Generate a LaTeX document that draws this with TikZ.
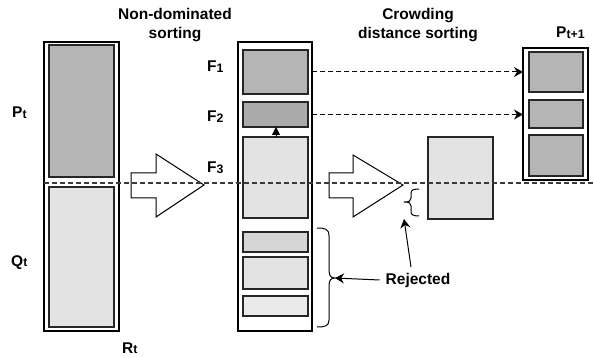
\documentclass[tikz,border=0pt]{standalone}
\usepackage{fontspec}
\setmainfont{Liberation Sans}
\usetikzlibrary{arrows.meta,fit}

\definecolor{darkfill}{HTML}{B5B5B5}
\definecolor{darkerfill}{HTML}{ABABAB}
\definecolor{lightfill}{HTML}{E3E3E3}
\definecolor{midfill}{HTML}{D6D6D6}
\definecolor{palefill}{HTML}{EAEAEA}
\definecolor{cutline}{HTML}{3A3A3A}

\newcommand{\lbl}[2]{#1\raisebox{-0.7pt}{\fontsize{12.3}{13}\selectfont #2}}

\begin{document}
\begin{tikzpicture}[x=1pt,y=-1pt,
  outerbox/.style={draw=black, line width=1.4pt, fill=white, inner sep=0pt, outer sep=0pt},
  innerbox/.style={draw=black!85, line width=1.1pt, inner sep=0pt, outer sep=0pt},
  txt/.style={font=\bfseries\fontsize{15.5}{20}\selectfont, inner sep=0pt, anchor=base},
  bigarrow/.style={draw=black, line width=1pt, fill=white, line join=miter},
  flow/.style={draw=black, line width=1pt, dash pattern=on 5pt off 3pt,
    -{Stealth[length=9pt,width=10pt,inset=3pt]}},
  plain/.style={draw=black, line width=1pt, -{Stealth[length=9pt,width=10pt,inset=3pt]}},
  brace/.style={draw=black, line width=1pt}
]
\useasboundingbox (0,0) rectangle (594,358);

% R_t = P_t + Q_t
\node[outerbox, fit={(44,42) (119,331)}] (R) {};
\node[innerbox, fill=darkfill, fit={(49,45) (114,177)}] (P) {};
\node[innerbox, fill=lightfill, fit={(49,187) (114,327)}] (Q) {};

% fronts after non-dominated sorting
\node[outerbox, fit={(238,42) (312,331)}] (M) {};
\node[innerbox, fill=darkfill, fit={(243,50) (308,94)}] (F1) {};
\node[innerbox, fill=darkerfill, fit={(243,102) (308,127)}] (F2) {};
\node[innerbox, fill=lightfill, fit={(243,137) (308,218)}] (F3) {};
\node[innerbox, fill=midfill, fit={(243,232) (308,252)}] (F4) {};
\node[innerbox, fill=lightfill, fit={(243,257) (308,289)}] (F5) {};
\node[innerbox, fill=palefill, fit={(243,296) (308,316)}] (F6) {};

% part of F3 kept by crowding distance
\node[innerbox, fill=lightfill, fit={(428,137) (493,219)}] (C) {};

% P_{t+1}
\node[outerbox, fit={(523,48) (588,180)}] (N) {};
\node[innerbox, fill=darkfill, fit={(529,52) (583,92)}] (N1) {};
\node[innerbox, fill=darkfill, fit={(529,100) (583,128)}] (N2) {};
\node[innerbox, fill=darkfill, fit={(529,135) (583,176)}] (N3) {};

% sorting arrows
\path[bigarrow] (131,173) -- (156,173) -- (156,154) -- (204,185) -- (156,217) -- (156,198) -- (131,198) -- cycle;
\path[bigarrow] (329,173) -- (353,173) -- (353,155) -- (403,185) -- (353,217) -- (353,198) -- (329,198) -- cycle;

% small arrow from F3 to F2
\draw[draw=black, line width=0.8pt, -{Triangle[length=8pt,width=8pt]}] (F3.north -| 276,0) -- (F2.south -| 276,0);

% transfer of F1 and F2
\draw[flow] (M.east |- F1.east) -- (N.west |- F1.east);
\draw[flow] (M.east |- F2.east) -- (N.west |- F2.east);

% braces
\coordinate (bigtip) at (335,278);
\coordinate (smalltip) at (404,202);
\draw[brace] (317,228) .. controls (325,228) and (329,229) .. (329,236) -- (329,270)
  .. controls (329,276) and (331,278) .. (bigtip)
  .. controls (331,278) and (329,280) .. (329,286) -- (329,320)
  .. controls (329,326) and (325,327) .. (317,327);
\draw[brace] (419,189) .. controls (414,189) and (411,190) .. (411,193) -- (411,198)
  .. controls (411,201) and (409,202) .. (smalltip)
  .. controls (409,202) and (411,203) .. (411,206) -- (411,212)
  .. controls (411,215) and (414,216) .. (419,216);

% labels
\node[txt] (nds) at (175,19.3) {Non-dominated};
\node[txt] (nds2) at (175,39) {sorting};
\node[txt] (cds) at (418,19.3) {Crowding};
\node[txt] (cds2) at (418,39) {distance sorting};
\node[txt, anchor=base west] (Pt) at (12,118) {\lbl{P}{t}};
\node[txt, anchor=base west] (Qt) at (11,266) {\lbl{Q}{t}};
\node[txt, anchor=base west] (Rt) at (122,353) {\lbl{R}{t}};
\node[txt, anchor=base west] (F1t) at (207,72) {\lbl{F}{1}};
\node[txt, anchor=base west] (F2t) at (207,122) {\lbl{F}{2}};
\node[txt, anchor=base west] (F3t) at (207,173) {\lbl{F}{3}};
\node[txt, anchor=base west] (Nt) at (556,37.5) {\lbl{P}{t+1}};
\node[txt] (rej) at (418,284) {Rejected};

% rejected pointers
\coordinate (rejup) at (411,267);
\draw[plain] (rej.west) ++(-6,0) coordinate (rejleft) -- (bigtip);
\draw[plain] (rejup) -- (smalltip |- C.south);

% cut line between the two halves
\draw[cutline, line width=1.1pt, dash pattern=on 5pt off 3pt] (R.west |- 0,183) -- (594,183);
\end{tikzpicture}
\end{document}
